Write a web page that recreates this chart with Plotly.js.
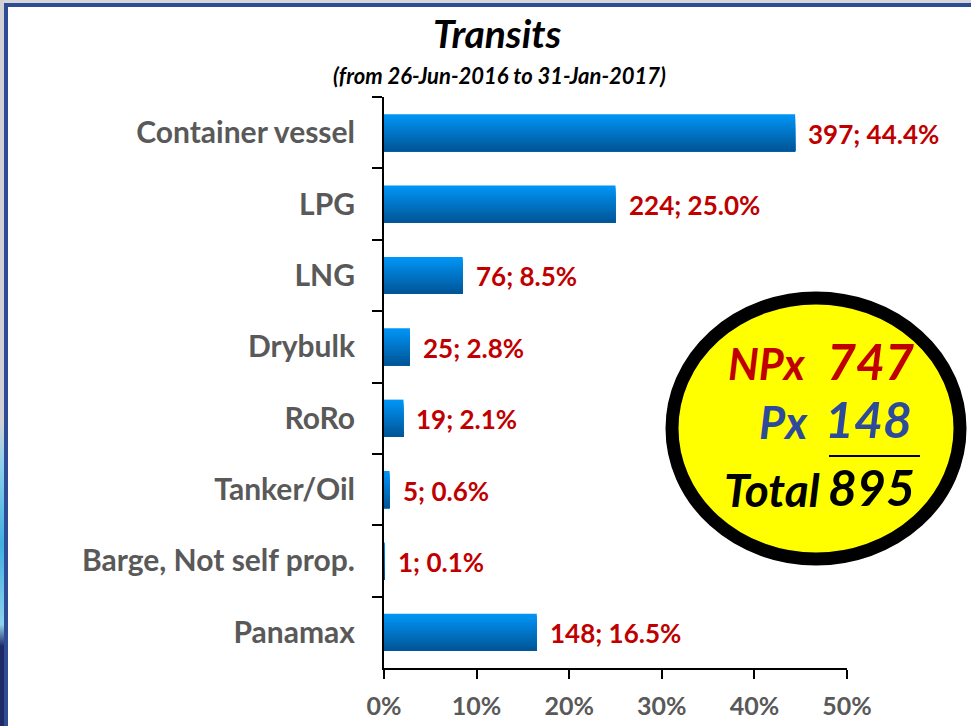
<!DOCTYPE html>
<html>
<head>
<meta charset="utf-8">
<script src="https://cdn.plot.ly/plotly-3.0.1.min.js"></script>
<style>
  html, body { margin:0; padding:0; width:971px; height:726px; overflow:hidden; background:#d6d6d8; }
  #strip { position:absolute; left:0; top:0; width:4px; height:726px;
    background: linear-gradient(to bottom, #d2d2d6 0%, #d2d2d6 58%, #8fd0ea 64%, #3fb0e0 75%, #8fd3ec 86%, #1e2a66 89%, #1e2a66 100%); }
  #frame { position:absolute; left:4px; top:3px; width:963px; height:719px; background:#ffffff;
    border-left:4px solid #2e4b95; border-top:4px solid #2e4b95; }
  #chart { position:absolute; left:0; top:0; width:971px; height:726px; }
</style>
</head>
<body>
<div id="strip"></div>
<div id="frame"></div>
<div id="chart"></div>
<script>
// ---- data ----
const categories = ["Container vessel", "LPG", "LNG", "Drybulk", "RoRo", "Tanker/Oil", "Barge, Not self prop.", "Panamax"];
const counts     = [397, 224, 76, 25, 19, 5, 1, 148];
const percents   = [44.4, 25.0, 8.5, 2.8, 2.1, 0.6, 0.1, 16.5];
const xTicks     = [0, 10, 20, 30, 40, 50];
const totals     = { npx: 747, px: 148, total: 895 };

// ---- geometry helpers (pixel -> paper) ----
const W = 971, H = 726;
const M = { l: 384, r: 124, t: 97, b: 58 };
const PW = W - M.l - M.r, PH = H - M.t - M.b;
const px = x => (x - M.l) / PW;
const py = y => (H - M.b - y) / PH;

// ---- bars drawn as overlaid layers to emulate the vertical gradient ----
const nStripes = 16;
const barHalf = 0.26;
const cTop = [0, 148, 245], cBot = [0, 86, 152];
const traces = [];
for (let s = 0; s < nStripes; s++) {
  const t = s / (nStripes - 1);
  const c = cTop.map((v, k) => Math.round(v + (cBot[k] - v) * t));
  const step = (2 * barHalf) / nStripes;
  const off = -barHalf + s * step;
  traces.push({
    type: 'bar', orientation: 'h',
    x: percents, y: categories,
    width: barHalf - off, offset: off,
    marker: { color: `rgb(${c[0]},${c[1]},${c[2]})`, line: { width: 0 } },
    hoverinfo: 'skip', showlegend: false
  });
}

const labelFont = { family: 'Lato, "Open Sans", sans-serif', size: 26, color: '#c00000' };
const annotations = categories.map((c, i) => ({
  x: percents[i], y: c, xref: 'x', yref: 'y',
  text: `<b>${counts[i]}; ${percents[i].toFixed(1)}%</b>`,
  showarrow: false, xanchor: 'left', xshift: 11, yshift: -1,
  font: labelFont
}));

// title & subtitle
annotations.push({
  xref: 'paper', yref: 'paper', x: px(497), y: py(33), xanchor: 'center', yanchor: 'middle',
  text: '<b><i>Transits</i></b>', showarrow: false,
  font: { family: 'Lato, sans-serif', size: 39, color: '#000000' }
});
annotations.push({
  xref: 'paper', yref: 'paper', x: px(499), y: py(75), xanchor: 'center', yanchor: 'middle',
  text: '<b><i>(from 26-Jun-2016 to 31-Jan-2017)</i></b>', showarrow: false,
  font: { family: 'Lato, sans-serif', size: 22, color: '#000000' }
});

// circle texts
const circFont = (size, color) => ({ family: 'Lato, sans-serif', size: size, color: color });
const red = '#c00000', blue = '#2e4b9b';
annotations.push({ xref:'paper', yref:'paper', x:px(808), y:py(363), xanchor:'right', yanchor:'middle', showarrow:false,
  text:'<b><i>NPx</i></b>', font: circFont(43, red) });
annotations.push({ xref:'paper', yref:'paper', x:px(825), y:py(361), xanchor:'left', yanchor:'middle', showarrow:false,
  text:`<b><i>${totals.npx}</i></b>`, font: circFont(50, red) });
annotations.push({ xref:'paper', yref:'paper', x:px(810), y:py(422), xanchor:'right', yanchor:'middle', showarrow:false,
  text:'<b><i>Px</i></b>', font: circFont(45, blue) });
annotations.push({ xref:'paper', yref:'paper', x:px(823), y:py(419), xanchor:'left', yanchor:'middle', showarrow:false,
  text:`<b><i>${totals.px}</i></b>`, font: circFont(50, blue) });
annotations.push({ xref:'paper', yref:'paper', x:px(822), y:py(489), xanchor:'right', yanchor:'middle', showarrow:false,
  text:'<b><i>Total</i></b>', font: circFont(46, '#000000') });
annotations.push({ xref:'paper', yref:'paper', x:px(826), y:py(487), xanchor:'left', yanchor:'middle', showarrow:false,
  text:`<b><i>${totals.total}</i></b>`, font: circFont(50, '#000000') });

const shapes = [
  { type:'circle', xref:'paper', yref:'paper', layer:'above',
    x0: px(672), x1: px(960), y0: py(559), y1: py(298),
    fillcolor:'#ffff00', line:{ color:'#000000', width:13 } },
  { type:'line', xref:'paper', yref:'paper', layer:'above',
    x0: px(829), x1: px(920), y0: py(456), y1: py(456),
    line:{ color:'#000000', width:2 } }
];

const axisFont = { family: 'Lato, "Open Sans", sans-serif', size: 25, color: '#595959', weight: 'bold' };
const yFont = { family: 'Lato, "Open Sans", sans-serif', size: 30, color: '#595959', weight: 'bold' };

const layout = {
  width: W, height: H,
  margin: M,
  paper_bgcolor: 'rgba(0,0,0,0)', plot_bgcolor: 'rgba(0,0,0,0)',
  barmode: 'overlay',
  xaxis: {
    range: [0, 50], tickvals: xTicks, ticktext: xTicks.map(v => v + '%'),
    showgrid: false, zeroline: false, showline: true, linecolor: '#000000', linewidth: 2,
    ticks: 'outside', ticklen: 9, tickwidth: 2, tickcolor: '#000000',
    tickfont: axisFont, ticklabelstandoff: 6, fixedrange: true
  },
  yaxis: {
    type: 'category', categoryarray: categories, categoryorder: 'array', autorange: 'reversed',
    showgrid: false, zeroline: false, showline: true, linecolor: '#000000', linewidth: 2,
    ticks: 'outside', tickson: 'boundaries', ticklen: 10, tickwidth: 2, tickcolor: '#000000',
    tickfont: yFont, ticklabelstandoff: 21, fixedrange: true
  },
  annotations: annotations,
  shapes: shapes,
  showlegend: false
};

Plotly.newPlot('chart', traces, layout, { staticPlot: true, displayModeBar: false });
</script>
</body>
</html>
